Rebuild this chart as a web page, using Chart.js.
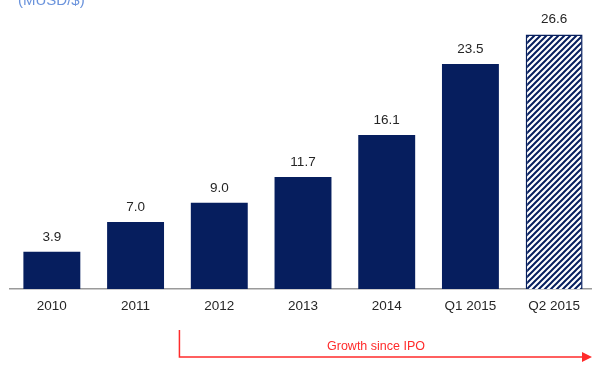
<!DOCTYPE html>
<html>
<head>
<meta charset="utf-8">
<script src="https://cdn.jsdelivr.net/npm/chart.js@4"></script>
<style>
  html, body { margin: 0; padding: 0; background: #fff; }
  #wrap { position: relative; width: 592px; height: 367px; overflow: hidden; }
  #unit {
    position: absolute; left: 18px; top: -9px;
    font: 15px 'Liberation Sans', Arial, sans-serif; color: #6a93dc;
  }
</style>
</head>
<body>
<div id="wrap">
  <div id="unit">(MUSD/$)</div>
  <canvas id="c" width="596" height="367"></canvas>
</div>
<script>
const LABELS = ['2010', '2011', '2012', '2013', '2014', 'Q1 2015', 'Q2 2015'];
const VALUES = [3.9, 7.0, 9.0, 11.7, 16.1, 23.5, 26.6];
const PROJECTED = [false, false, false, false, false, false, true];

const NAVY = '#061e5e';
const FONT = "'Liberation Sans', Arial, sans-serif";

// diagonal stripe fill for the projected quarter
function stripes() {
  const p = document.createElement('canvas');
  p.width = 6; p.height = 6;
  const g = p.getContext('2d');
  g.fillStyle = '#fff';
  g.fillRect(0, 0, 6, 6);
  g.strokeStyle = NAVY;
  g.lineWidth = 2;
  g.beginPath();
  g.moveTo(-1, 7); g.lineTo(7, -1);
  g.moveTo(-4, 4); g.lineTo(4, -4);
  g.moveTo(2, 10); g.lineTo(10, 2);
  g.stroke();
  return g.createPattern(p, 'repeat');
}

const valueLabels = {
  id: 'valueLabels',
  afterDatasetsDraw(chart) {
    const ctx = chart.ctx;
    const meta = chart.getDatasetMeta(0);
    ctx.save();
    ctx.font = '13.5px ' + FONT;
    ctx.fillStyle = '#262626';
    ctx.textAlign = 'center';
    ctx.textBaseline = 'bottom';
    meta.data.forEach((bar, i) => {
      ctx.fillText(VALUES[i].toFixed(1), bar.x, bar.y - 8);
    });
    ctx.restore();
  }
};

// red bracket arrow under the axis, starting between 2011 and 2012
const growthArrow = {
  id: 'growthArrow',
  afterDraw(chart) {
    const ctx = chart.ctx;
    const xs = chart.scales.x;
    const x0 = (xs.getPixelForValue(1) + xs.getPixelForValue(2)) / 2 + 2;
    const x1 = 592;
    const yTop = 330, y = 357;
    ctx.save();
    ctx.strokeStyle = '#ff2b2b';
    ctx.fillStyle = '#ff2b2b';
    ctx.lineWidth = 1.5;
    ctx.beginPath();
    ctx.moveTo(x0, yTop);
    ctx.lineTo(x0, y);
    ctx.lineTo(x1 - 8, y);
    ctx.stroke();
    ctx.beginPath();
    ctx.moveTo(x1 - 10, y - 5);
    ctx.lineTo(x1, y);
    ctx.lineTo(x1 - 10, y + 5);
    ctx.closePath();
    ctx.fill();
    ctx.font = '12.5px ' + FONT;
    ctx.textAlign = 'center';
    ctx.textBaseline = 'alphabetic';
    ctx.fillText('Growth since IPO', 376, 350);
    ctx.restore();
  }
};

const pattern = stripes();

new Chart(document.getElementById('c'), {
  type: 'bar',
  data: {
    labels: LABELS,
    datasets: [{
      data: VALUES,
      backgroundColor: PROJECTED.map(p => p ? pattern : NAVY),
      borderColor: NAVY,
      borderWidth: PROJECTED.map(p => p ? 1.5 : 0),
      categoryPercentage: 1,
      barPercentage: 0.68,
    }]
  },
  options: {
    responsive: false,
    animation: false,
    layout: { padding: { left: 10, right: 0, top: 0, bottom: 0 } },
    plugins: { legend: { display: false }, tooltip: { enabled: false } },
    scales: {
      y: { display: false, min: 0, max: 30.2 },
      x: {
        grid: { display: false, drawTicks: false },
        border: { display: true, color: '#9a9a9a', width: 1.5 },
        ticks: { color: '#262626', font: { family: FONT, size: 13.5 }, padding: 9, maxRotation: 0 },
        afterFit(scale) { scale.height = 78; }
      }
    }
  },
  plugins: [valueLabels, growthArrow]
});
</script>
</body>
</html>
